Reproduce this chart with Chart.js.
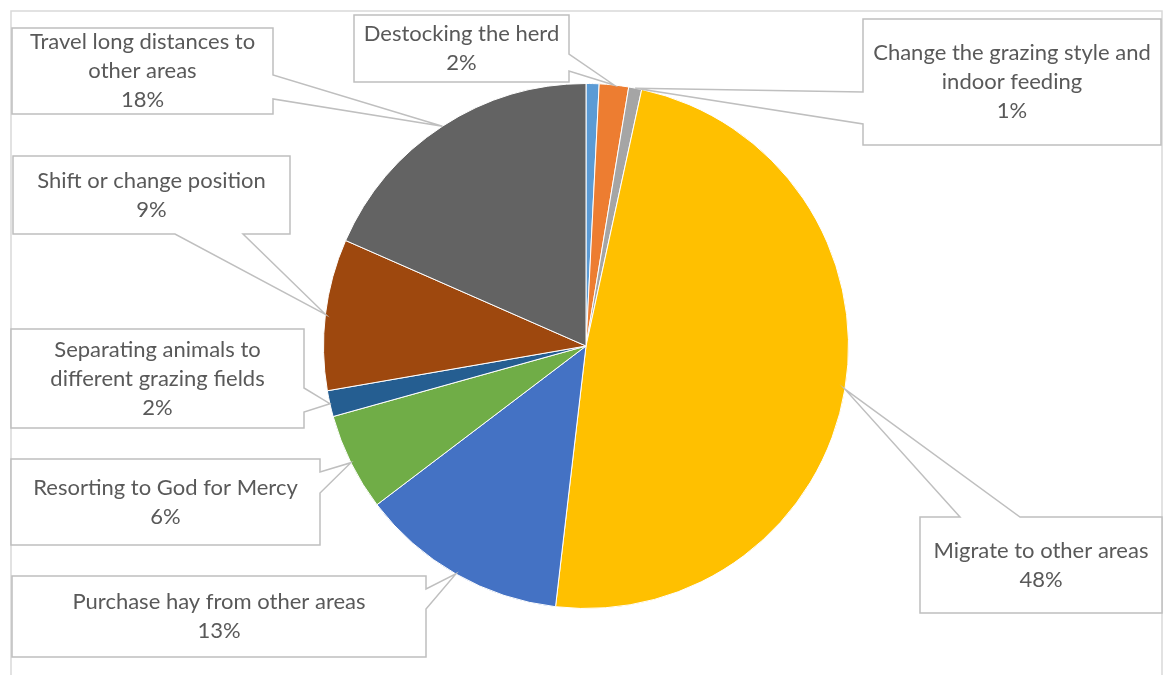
<!DOCTYPE html>
<html lang="en">
<head>
  <meta charset="UTF-8">
  <title>Coping strategies</title>
  <script src="https://cdn.jsdelivr.net/npm/chart.js"></script>
  <style>
    html, body {
      margin: 0;
      padding: 0;
      background: #ffffff;
    }
    .chart-wrap {
      position: relative;
      width: 1164px;
      height: 675px;
    }
  </style>
</head>
<body>

<div class="chart-wrap">
  <canvas id="strategyChart"></canvas>
</div>

<script>
  // slices, clockwise from 12 o'clock
  const categories = [
    'Other',
    'Destocking the herd',
    'Change the grazing style and indoor feeding',
    'Migrate to other areas',
    'Purchase hay from other areas',
    'Resorting to God for Mercy',
    'Separating animals to different grazing fields',
    'Shift or change position',
    'Travel long distances to other areas'
  ];
  const shares = [0.8, 1.8, 0.8, 48.4, 12.8, 6.0, 1.6, 9.3, 18.4];
  const sliceColors = ['#5B9BD5', '#ED7D31', '#A5A5A5', '#FFC000', '#4472C4',
                       '#70AD47', '#255E91', '#9E480E', '#636363'];

  // text lines of each callout (null = no label), the percentage is appended
  const calloutLines = [
    null,
    ['Destocking the herd'],
    ['Change the grazing style and', 'indoor feeding'],
    ['Migrate to other areas'],
    ['Purchase hay from other areas'],
    ['Resorting to God for Mercy'],
    ['Separating animals to', 'different grazing fields'],
    ['Shift or change position'],
    ['Travel long distances to', 'other areas']
  ];

  // callout boxes: x, y, w, h and the edge the wedge leaves from (a..b along that edge)
  const calloutBoxes = [
    null,
    { x: 354, y: 15,  w: 215, h: 67,  side: 'right',  a: 54,  b: 71 },
    { x: 863, y: 19,  w: 298, h: 126, side: 'left',   a: 92,  b: 124 },
    { x: 920, y: 517, w: 242, h: 96,  side: 'top',    a: 960, b: 1020 },
    { x: 12,  y: 576, w: 414, h: 81,  side: 'right',  a: 589, b: 609 },
    { x: 11,  y: 459, w: 309, h: 86,  side: 'right',  a: 472, b: 493 },
    { x: 11,  y: 329, w: 293, h: 99,  side: 'right',  a: 388, b: 412 },
    { x: 13,  y: 156, w: 277, h: 78,  side: 'bottom', a: 175, b: 243 },
    { x: 12,  y: 28,  w: 261, h: 86,  side: 'right',  a: 75,  b: 99 }
  ];

  const total = shares.reduce((s, v) => s + v, 0);

  // outer frame of the chart area
  const framePlugin = {
    id: 'frame',
    beforeDraw(chart) {
      const ctx = chart.ctx;
      ctx.save();
      ctx.fillStyle = '#ffffff';
      ctx.fillRect(0, 0, chart.width, chart.height);
      ctx.strokeStyle = '#D9D9D9';
      ctx.lineWidth = 1.5;
      ctx.beginPath();
      ctx.moveTo(11, chart.height + 2);
      ctx.lineTo(11, 11);
      ctx.lineTo(1162, 11);
      ctx.lineTo(1162, chart.height + 2);
      ctx.stroke();
      ctx.restore();
    }
  };

  // wedge callouts pointing at the middle of each slice's outer edge
  const calloutPlugin = {
    id: 'callouts',
    afterDatasetsDraw(chart) {
      const ctx = chart.ctx;
      const arcs = chart.getDatasetMeta(0).data;
      ctx.save();
      arcs.forEach((arc, i) => {
        const box = calloutBoxes[i];
        if (!box || !calloutLines[i]) return;
        const p = arc.getProps(['x', 'y', 'startAngle', 'endAngle', 'outerRadius'], true);
        const mid = (p.startAngle + p.endAngle) / 2;
        const tip = {
          x: p.x + Math.cos(mid) * p.outerRadius,
          y: p.y + Math.sin(mid) * p.outerRadius
        };
        const l = box.x, t = box.y, r = box.x + box.w, b = box.y + box.h;

        const pts = [[l, t]];
        if (box.side === 'top') pts.push([box.a, t], [tip.x, tip.y], [box.b, t]);
        pts.push([r, t]);
        if (box.side === 'right') pts.push([r, box.a], [tip.x, tip.y], [r, box.b]);
        pts.push([r, b]);
        if (box.side === 'bottom') pts.push([box.b, b], [tip.x, tip.y], [box.a, b]);
        pts.push([l, b]);
        if (box.side === 'left') pts.push([l, box.b], [tip.x, tip.y], [l, box.a]);

        ctx.beginPath();
        pts.forEach((pt, k) => k ? ctx.lineTo(pt[0], pt[1]) : ctx.moveTo(pt[0], pt[1]));
        ctx.closePath();
        ctx.fillStyle = '#ffffff';
        ctx.fill();
        ctx.strokeStyle = '#BFBFBF';
        ctx.lineWidth = 1.5;
        ctx.lineJoin = 'miter';
        ctx.stroke();

        const lines = calloutLines[i].concat([Math.round(shares[i] / total * 100) + '%']);
        const lineH = 29;
        const cx = box.x + box.w / 2;
        const cy = box.y + box.h / 2 - (lines.length - 1) * lineH / 2;
        ctx.fillStyle = '#595959';
        ctx.font = '22px Lato, "Open Sans", sans-serif';
        ctx.textAlign = 'center';
        ctx.textBaseline = 'middle';
        lines.forEach((txt, k) => ctx.fillText(txt, cx, cy + k * lineH));
      });
      ctx.restore();
    }
  };

  new Chart(document.getElementById('strategyChart'), {
    type: 'pie',
    data: {
      labels: categories,
      datasets: [{
        data: shares,
        backgroundColor: sliceColors,
        borderColor: '#ffffff',
        borderWidth: 1
      }]
    },
    options: {
      responsive: true,
      maintainAspectRatio: false,
      animation: false,
      layout: {
        padding: { top: 83, bottom: 66, left: 300, right: 292 }
      },
      plugins: {
        legend: { display: false },
        tooltip: { enabled: false }
      }
    },
    plugins: [framePlugin, calloutPlugin]
  });
</script>

</body>
</html>
